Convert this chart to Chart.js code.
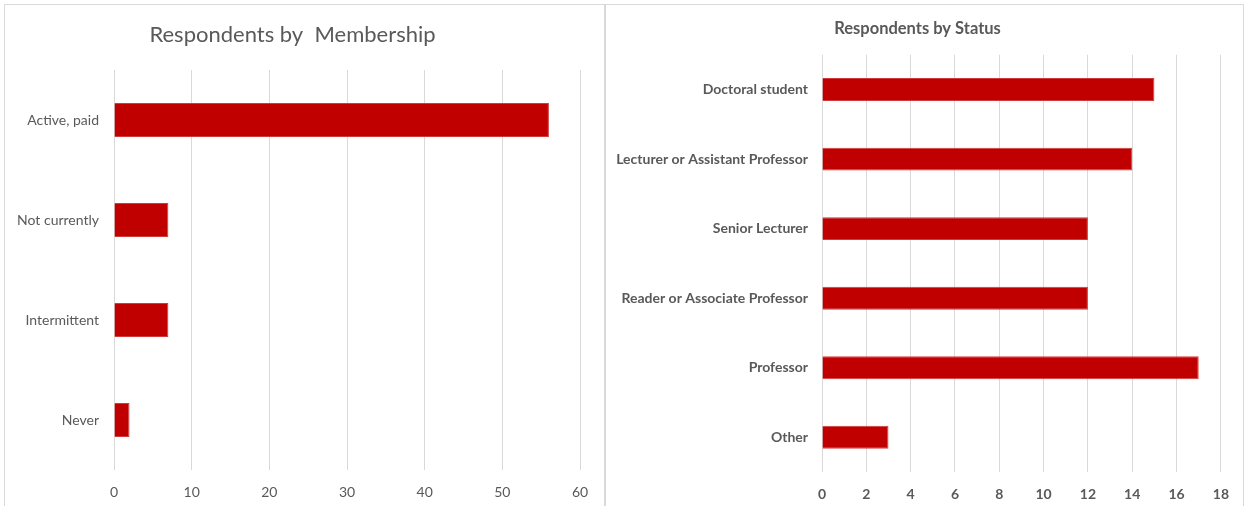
<!DOCTYPE html>
<html>
<head>
<meta charset="utf-8">
<script src="https://cdn.jsdelivr.net/npm/chart.js@4/dist/chart.umd.min.js"></script>
<style>
    body { margin: 0; background: #fff; width: 1245px; height: 506px; position: relative; overflow: hidden; }
    .panel { position: absolute; border: 1px solid #d9d9d9; box-sizing: border-box; background: #fff; }
    #leftPanel { left: 4px; top: 4px; width: 601px; height: 504px; }
    #rightPanel { left: 605px; top: 4px; width: 639px; height: 504px; }
    .panel canvas { position: absolute; left: 0; top: 0; }
</style>
</head>
<body>
<div class="panel" id="leftPanel"><canvas id="memberChart"></canvas></div>
<div class="panel" id="rightPanel"><canvas id="statusChart"></canvas></div>

<script>
// Data
const memberLabels = ['Active, paid', 'Not currently', 'Intermittent', 'Never'];
const memberValues = [56, 7, 7, 2];
const memberTicks = [0, 10, 20, 30, 40, 50, 60];

const statusLabels = ['Doctoral student', 'Lecturer or Assistant Professor', 'Senior Lecturer',
    'Reader or Associate Professor', 'Professor', 'Other'];
const statusValues = [15, 14, 12, 12, 17, 3];
const statusTicks = [0, 2, 4, 6, 8, 10, 12, 14, 16, 18];

const BAR_RED = '#c00000';
const GRID = '#d9d9d9';
const TEXT = '#595959';
const FONT = 'Lato, "Open Sans", sans-serif';

function makeChart(id, w, h, opts) {
    const canvas = document.getElementById(id);
    canvas.style.width = w + 'px';
    canvas.style.height = h + 'px';
    canvas.width = w;
    canvas.height = h;

    return new Chart(canvas.getContext('2d'), {
        type: 'bar',
        data: {
            labels: opts.labels,
            datasets: [{
                data: opts.values,
                backgroundColor: BAR_RED,
                borderColor: '#d23a3a',
                borderWidth: 1,
                categoryPercentage: 1,
                barPercentage: opts.barPct
            }]
        },
        options: {
            indexAxis: 'y',
            responsive: false,
            animation: false,
            layout: { padding: { top: 0, right: opts.padRight, bottom: 0, left: 0 } },
            plugins: {
                legend: { display: false },
                tooltip: { enabled: false },
                title: {
                    display: true,
                    text: opts.title,
                    color: TEXT,
                    font: { family: FONT, size: opts.titleSize, weight: opts.titleWeight },
                    padding: { top: opts.titleTop, bottom: opts.titleBottom }
                }
            },
            scales: {
                x: {
                    min: 0,
                    max: opts.ticks[opts.ticks.length - 1],
                    afterBuildTicks: axis => { axis.ticks = opts.ticks.map(v => ({ value: v })); },
                    afterFit: axis => { axis.height = opts.xHeight; },
                    grid: { color: GRID, lineWidth: 1, drawTicks: false },
                    border: { display: false },
                    ticks: {
                        color: TEXT,
                        padding: opts.xPad,
                        font: { family: FONT, size: opts.tickSize, weight: opts.labelWeight }
                    }
                },
                y: {
                    afterFit: axis => { axis.width = opts.yWidth; },
                    grid: { display: false, drawTicks: false },
                    border: { display: false },
                    ticks: {
                        color: TEXT,
                        padding: opts.yPad,
                        font: { family: FONT, size: opts.labelSize, weight: opts.labelWeight }
                    }
                }
            }
        }
    });
}

makeChart('memberChart', 599, 502, {
    labels: memberLabels,
    values: memberValues,
    ticks: memberTicks,
    title: 'Respondents by  Membership',
    titleSize: 22,
    titleWeight: 'normal',
    titleTop: 16.8,
    titleBottom: 21.8,
    barPct: 0.34,
    padRight: 24,
    xHeight: 37,
    xPad: 14,
    yWidth: 109,
    yPad: 15,
    tickSize: 14,
    labelSize: 14,
    labelWeight: 'normal'
});

makeChart('statusChart', 637, 502, {
    labels: statusLabels,
    values: statusValues,
    ticks: statusTicks,
    title: 'Respondents by Status',
    titleSize: 16.5,
    titleWeight: 'bold',
    titleTop: 13.5,
    titleBottom: 16.5,
    barPct: 0.33,
    padRight: 14,
    xHeight: 35,
    xPad: 14,
    yWidth: 216,
    yPad: 14,
    tickSize: 14,
    labelSize: 14,
    labelWeight: 'bold'
});
</script>
</body>
</html>
